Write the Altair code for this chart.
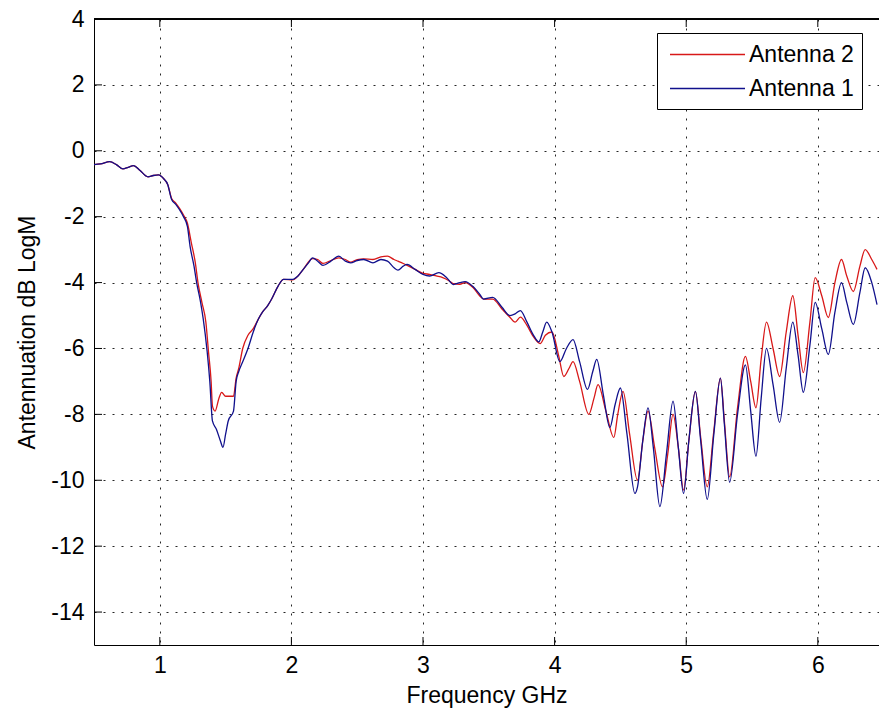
import altair as alt
import pandas as pd

# ---- data ----
freq_a1 = [0.50, 0.55, 0.62, 0.67, 0.72, 0.76, 0.80, 0.85, 0.91, 0.95, 0.99, 1.03, 1.06,
           1.09, 1.12, 1.15, 1.18, 1.21, 1.23, 1.26, 1.28, 1.31, 1.33, 1.36, 1.38, 1.40,
           1.43, 1.46, 1.48, 1.50, 1.52, 1.56, 1.58, 1.60, 1.63, 1.67, 1.71, 1.75, 1.78,
           1.82, 1.85, 1.90, 1.94, 2.01, 2.05, 2.09, 2.13, 2.16, 2.20, 2.24, 2.30, 2.36,
           2.41, 2.45, 2.50, 2.55, 2.62, 2.68, 2.73, 2.78, 2.81, 2.85, 2.88, 2.94, 3.00,
           3.05, 3.12, 3.18, 3.23, 3.28, 3.32, 3.38, 3.43, 3.46, 3.53, 3.60, 3.66, 3.70,
           3.74, 3.79, 3.84, 3.88, 3.91, 3.94, 3.98, 4.04, 4.09, 4.14, 4.19, 4.25, 4.29,
           4.32, 4.37, 4.42, 4.46, 4.50, 4.55, 4.61, 4.63, 4.67, 4.71, 4.75, 4.80, 4.85,
           4.90, 4.94, 4.98, 5.02, 5.07, 5.11, 5.16, 5.21, 5.26, 5.29, 5.33, 5.39, 5.45,
           5.49, 5.53, 5.57, 5.61, 5.66, 5.71, 5.76, 5.81, 5.85, 5.89, 5.94, 5.98, 6.03,
           6.08, 6.13, 6.18, 6.22, 6.27, 6.32, 6.36, 6.41, 6.45]
att_a1 = [-0.42, -0.40, -0.33, -0.42, -0.55, -0.50, -0.45, -0.60, -0.79, -0.75, -0.73, -0.85, -1.02,
          -1.48, -1.62, -1.79, -2.00, -2.30, -2.90, -3.50, -4.00, -4.60, -5.10, -6.10, -7.00, -8.20,
          -8.45, -8.80, -9.00, -8.60, -8.20, -7.90, -7.00, -6.70, -6.40, -6.00, -5.50, -5.10, -4.90,
          -4.70, -4.50, -4.10, -3.90, -3.90, -3.80, -3.60, -3.40, -3.25, -3.35, -3.48, -3.35, -3.20,
          -3.35, -3.40, -3.33, -3.30, -3.40, -3.30, -3.35, -3.55, -3.62, -3.50, -3.45, -3.60, -3.75,
          -3.80, -3.70, -3.85, -4.06, -4.00, -3.97, -4.12, -4.35, -4.50, -4.45, -4.75, -5.00, -4.95,
          -4.85, -5.20, -5.60, -5.80, -5.50, -5.20, -5.50, -6.40, -6.00, -5.73, -6.40, -7.24, -6.70,
          -6.33, -7.40, -8.40, -7.70, -7.20, -8.60, -10.40, -10.20, -8.80, -7.80, -9.00, -10.80, -9.20,
          -7.60, -9.00, -10.40, -8.80, -7.30, -8.80, -10.58, -8.60, -6.90, -8.30, -10.06, -8.00, -6.50,
          -7.90, -9.27, -7.50, -6.00, -7.10, -8.24, -6.60, -5.20, -6.20, -7.33, -5.90, -4.60, -5.40,
          -6.18, -4.90, -4.00, -4.60, -5.27, -4.30, -3.55, -4.00, -4.67]

freq_a2 = [0.50, 0.55, 0.62, 0.67, 0.72, 0.76, 0.80, 0.85, 0.91, 0.95, 0.99, 1.03, 1.06,
           1.09, 1.12, 1.15, 1.18, 1.21, 1.24, 1.27, 1.29, 1.32, 1.35, 1.37, 1.39, 1.40,
           1.42, 1.45, 1.47, 1.50, 1.53, 1.56, 1.58, 1.60, 1.63, 1.67, 1.71, 1.75, 1.78,
           1.82, 1.85, 1.90, 1.94, 2.01, 2.05, 2.09, 2.16, 2.20, 2.24, 2.30, 2.36, 2.41,
           2.45, 2.50, 2.55, 2.62, 2.68, 2.73, 2.78, 2.81, 2.85, 2.88, 2.94, 3.00, 3.05,
           3.10, 3.15, 3.20, 3.23, 3.28, 3.32, 3.38, 3.43, 3.46, 3.53, 3.60, 3.66, 3.70,
           3.74, 3.79, 3.84, 3.89, 3.93, 3.98, 4.03, 4.07, 4.11, 4.14, 4.19, 4.26, 4.30,
           4.33, 4.39, 4.45, 4.48, 4.52, 4.57, 4.63, 4.67, 4.71, 4.76, 4.82, 4.86, 4.90,
           4.94, 4.98, 5.02, 5.07, 5.11, 5.16, 5.21, 5.26, 5.29, 5.33, 5.39, 5.45, 5.49,
           5.53, 5.57, 5.61, 5.66, 5.71, 5.76, 5.81, 5.85, 5.89, 5.94, 5.98, 6.03, 6.08,
           6.13, 6.18, 6.22, 6.27, 6.32, 6.36, 6.41, 6.45]
att_a2 = [-0.42, -0.40, -0.33, -0.42, -0.55, -0.50, -0.45, -0.60, -0.79, -0.75, -0.73, -0.85, -1.02,
          -1.45, -1.58, -1.75, -1.95, -2.20, -2.80, -3.40, -4.00, -4.60, -5.20, -6.10, -7.00, -7.75,
          -7.90, -7.50, -7.33, -7.45, -7.45, -7.45, -6.90, -6.60, -6.00, -5.60, -5.40, -5.10, -4.90,
          -4.70, -4.50, -4.10, -3.90, -3.92, -3.80, -3.60, -3.27, -3.30, -3.42, -3.33, -3.25, -3.30,
          -3.38, -3.30, -3.28, -3.30, -3.22, -3.20, -3.30, -3.35, -3.42, -3.48, -3.60, -3.72, -3.75,
          -3.80, -3.85, -3.95, -4.03, -4.05, -4.00, -4.15, -4.40, -4.50, -4.50, -4.80, -5.05, -5.20,
          -5.05, -5.30, -5.65, -5.85, -5.60, -5.50, -6.20, -6.85, -6.60, -6.40, -7.00, -8.00, -7.50,
          -7.10, -7.90, -8.70, -8.00, -7.30, -8.60, -10.00, -8.80, -7.90, -9.00, -10.20, -9.20, -8.00,
          -9.00, -10.30, -8.80, -7.30, -8.70, -10.20, -8.50, -6.90, -8.20, -9.90, -7.80, -6.24, -7.00,
          -7.80, -6.30, -5.20, -6.00, -6.85, -5.50, -4.40, -5.60, -6.73, -5.20, -3.85, -4.40, -5.06,
          -4.00, -3.30, -3.80, -4.27, -3.50, -3.00, -3.30, -3.60]

series_names = ["Antenna 2", "Antenna 1"]
series_colors = ["#d81818", "#10108c"]
x_ticks = [1, 2, 3, 4, 5, 6]
y_ticks = [-14, -12, -10, -8, -6, -4, -2, 0, 2, 4]

df1 = pd.DataFrame({"freq": freq_a1, "att": att_a1, "series": "Antenna 1"})
df2 = pd.DataFrame({"freq": freq_a2, "att": att_a2, "series": "Antenna 2"})
xt = pd.DataFrame({"t": x_ticks})
yt = pd.DataFrame({"t": y_ticks})

W, H = 785, 626
FONT = "Liberation Sans"
FS = 23

xscale = alt.Scale(domain=[0.5, 6.465], nice=False, zero=False)
yscale = alt.Scale(domain=[-15, 4], nice=False, zero=False)
color = alt.Color(
    "series:N",
    scale=alt.Scale(domain=series_names, range=series_colors),
    legend=alt.Legend(
        title=None, orient="none", legendX=563, legendY=14,
        fillColor="white", strokeColor="black", padding=8, cornerRadius=0,
        symbolType="M-3,0H3", symbolSize=625, symbolStrokeWidth=1.3,
        symbolOffset=29, labelOffset=28, rowPadding=8,
        labelFont=FONT, labelFontSize=FS, labelColor="black", labelLimit=300,
    ),
)

xaxis = alt.Axis(values=x_ticks, title="Frequency GHz", grid=True, ticks=False,
                 labelPadding=9, labelExpr="'' + datum.value",
                 titleY=57, titleBaseline="alphabetic",
                 domainColor="black", domainWidth=1)
yaxis = alt.Axis(values=y_ticks, title="Antennuation dB LogM", grid=True, ticks=False,
                 labelPadding=10, labelExpr="'' + datum.value",
                 titleX=-67, titleY=313, titleAngle=270, titleAlign="center",
                 titleBaseline="middle", domainColor="black", domainWidth=1)

line2 = alt.Chart(df2).mark_line(strokeWidth=1.3, interpolate="monotone").encode(
    x=alt.X("freq:Q", scale=xscale, axis=xaxis),
    y=alt.Y("att:Q", scale=yscale, axis=yaxis),
    color=color,
)
line1 = alt.Chart(df1).mark_line(strokeWidth=1.3, interpolate="monotone").encode(
    x=alt.X("freq:Q", scale=xscale),
    y=alt.Y("att:Q", scale=yscale),
    color=color,
)

TL = 8
bottom_ticks = alt.Chart(xt).mark_rule(color="black", strokeWidth=1).encode(
    x=alt.X("t:Q", scale=xscale), y=alt.value(H), y2=alt.value(H - TL))
top_ticks = alt.Chart(xt).mark_rule(color="black", strokeWidth=1).encode(
    x=alt.X("t:Q", scale=xscale), y=alt.value(0), y2=alt.value(TL))
left_ticks = alt.Chart(yt).mark_rule(color="black", strokeWidth=1).encode(
    y=alt.Y("t:Q", scale=yscale), x=alt.value(0), x2=alt.value(TL))
top_border = alt.Chart(xt).mark_rule(color="black", strokeWidth=1).encode(
    x=alt.value(0), x2=alt.value(W), y=alt.value(0))

chart = alt.layer(line2, line1, bottom_ticks, top_ticks, left_ticks, top_border).properties(
    width=W, height=H,
    padding={"left": 94, "top": 19, "right": 0, "bottom": 69},
    autosize=alt.AutoSizeParams(type="none"),
    background="white",
).configure_view(stroke=None).configure_axis(
    labelFont=FONT, labelFontSize=FS, labelColor="black",
    titleFont=FONT, titleFontSize=FS, titleFontWeight="normal", titleColor="black",
    gridColor="black", gridDash=[2, 7], gridWidth=1, gridOpacity=0.85,
)

chart.save("out.html", embed_options={"renderer": "svg", "actions": False})
